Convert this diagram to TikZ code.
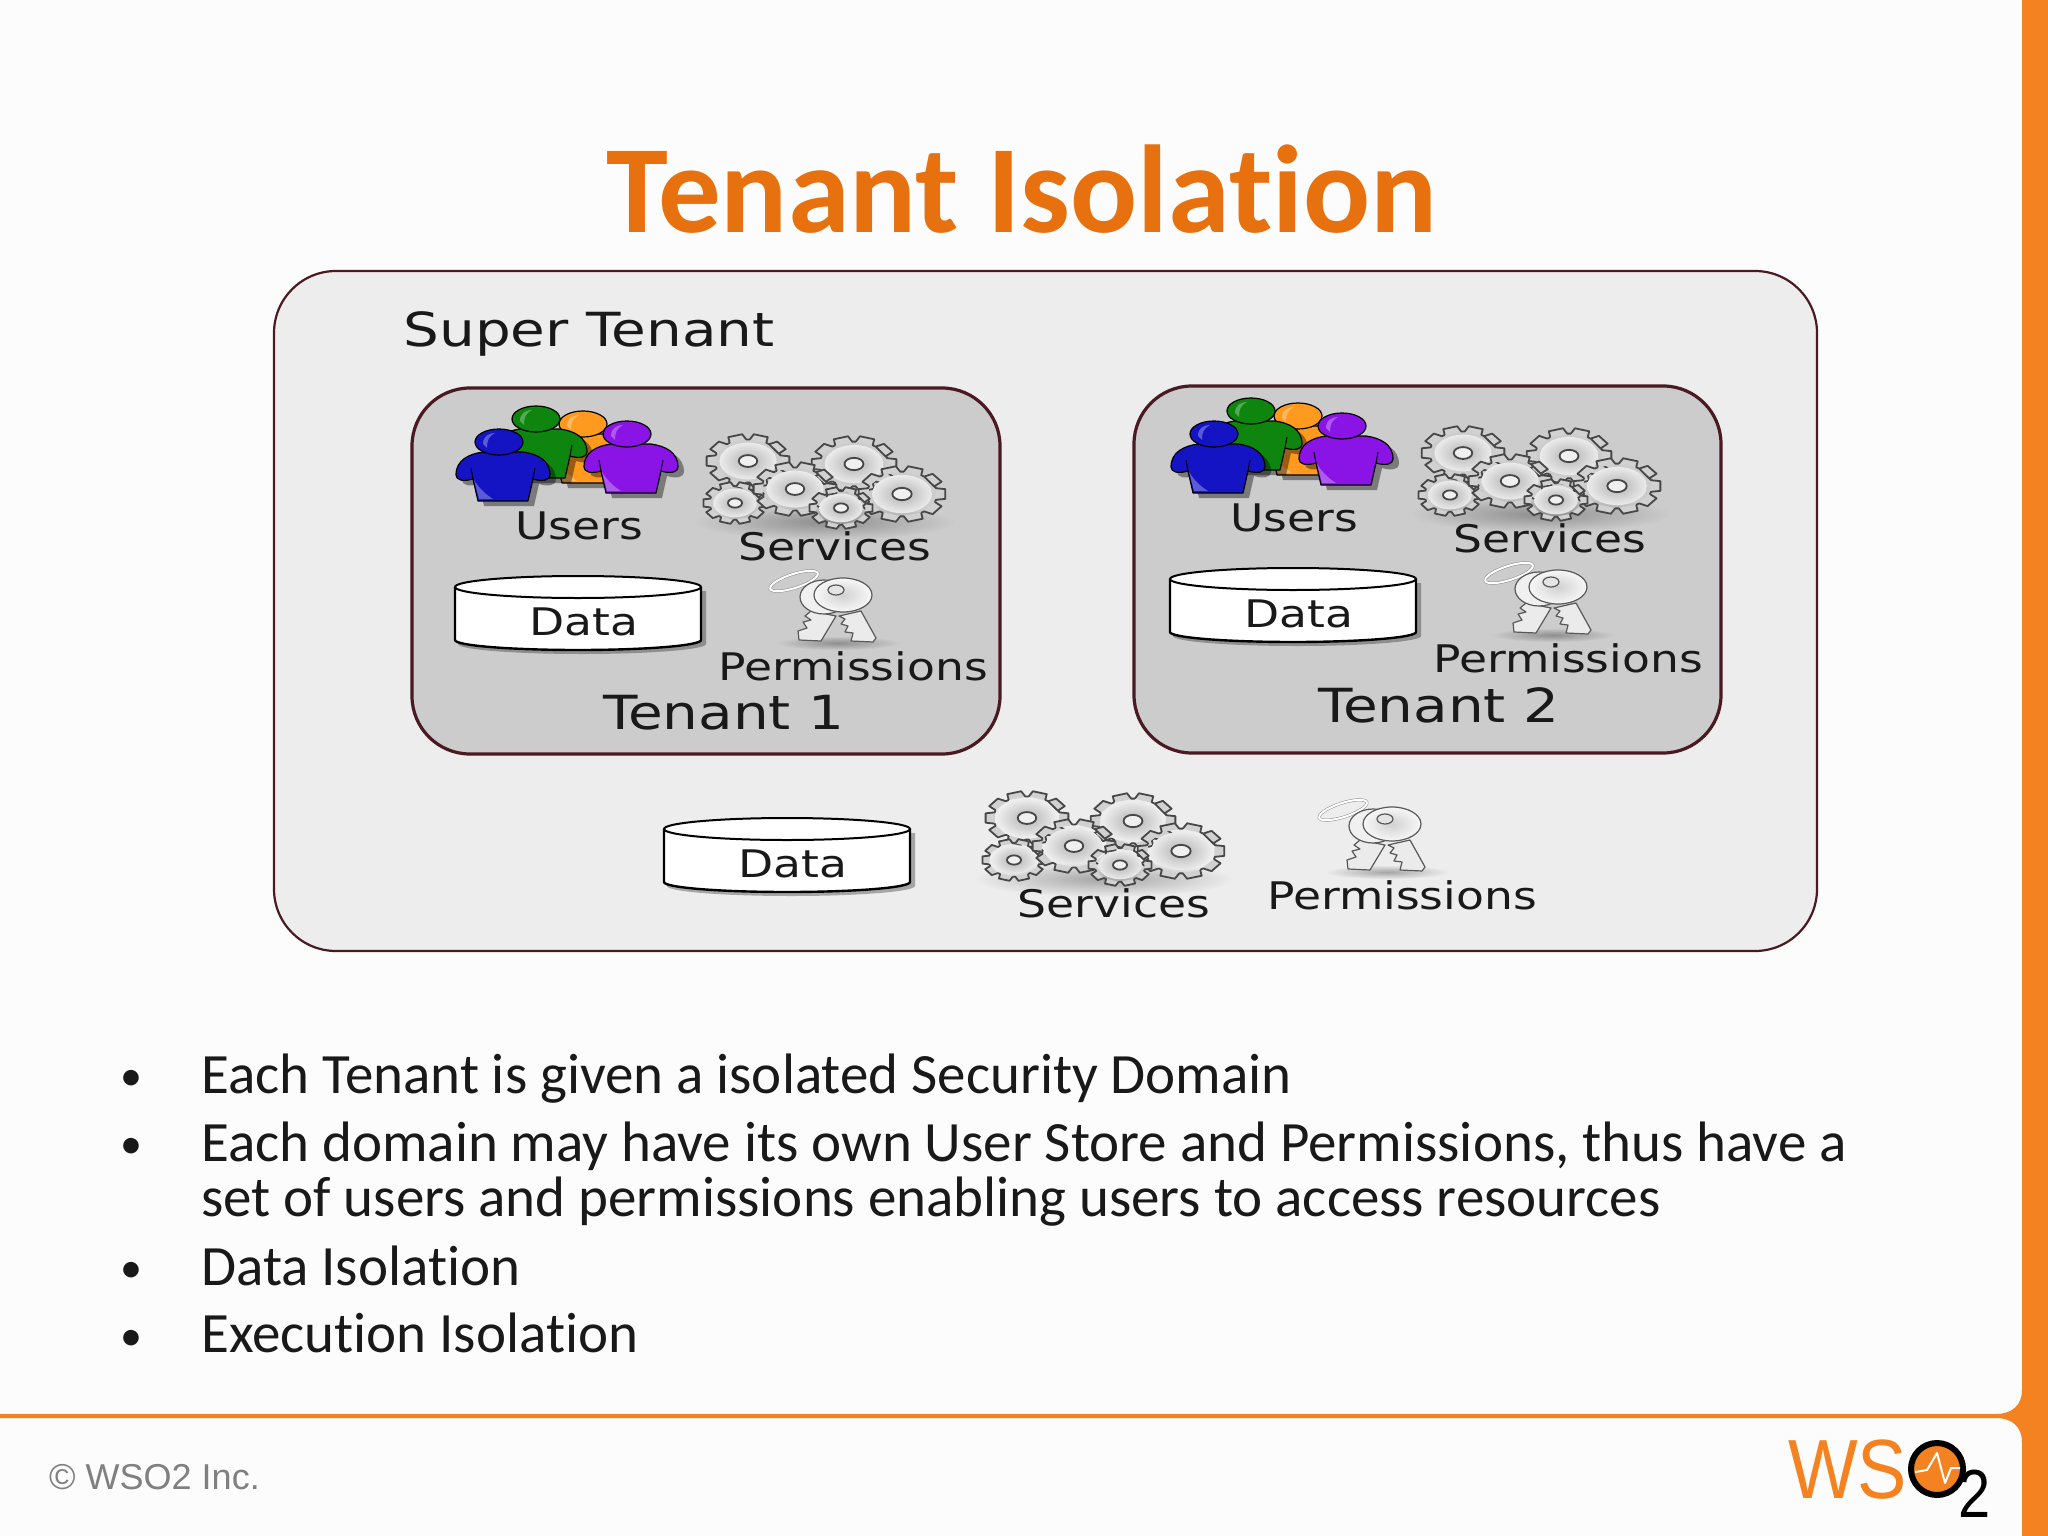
\documentclass[tikz,border=0pt]{standalone}
\usepackage{fontspec}
\setmainfont[Ligatures=NoCommon]{Carlito}
\newfontfamily\labelface{DejaVu Sans}
\newfontfamily\footface{Liberation Sans}
\usetikzlibrary{fadings}
\definecolor{wsoorange}{HTML}{F58220}
\definecolor{titleorange}{HTML}{E8710F}
\definecolor{boxedge}{HTML}{4A1A22}
\definecolor{userblue}{HTML}{1414C4}
\definecolor{usergreen}{HTML}{0E850E}
\definecolor{userorange}{HTML}{FF9A1E}
\definecolor{userpurple}{HTML}{8A14E6}
\tikzfading[name=softedge, inner color=transparent!0, outer color=transparent!100]
\tikzset{
	lbl/.style={font=\labelface\fontsize{#1}{#1}\selectfont,inner sep=0pt,text=black!90,xscale=1.2,transform shape},
	bullettext/.style={font=\fontsize{57}{57}\selectfont,anchor=base west,inner sep=0pt,text=black!90},
	bulletdot/.style={font=\fontsize{44}{44}\selectfont,anchor=base west,inner sep=0pt,text=black!90},
	softshadow/.style={black,opacity=.3,path fading=softedge},
	pics/onegear/.style={code={
		\draw[fill=black!18,draw=black!72,line width=1.8pt,line join=round]
			\foreach \a in {0,36,...,324} {
				({\a-15}:.8) -- ({\a-10}:1) -- ({\a+10}:1) -- ({\a+15}:.8) -- ({\a+21}:.8)
			} -- cycle;
		\shade[inner color=black!30,outer color=black!8] (0,0) circle (.68);
		\draw[black!72,line width=1.8pt,fill=black!6] (0,0) circle (.22);
	}},
	pics/gearset/.style={code={
		\fill[softshadow] (-10,-24) ellipse (130 and 18);
		\pic[xscale=42,yscale=27] at (-87,-85) {onegear};
		\pic[xscale=32,yscale=21] at (-100,-43) {onegear};
		\pic[xscale=43,yscale=28] at (19,-82) {onegear};
		\pic[xscale=42,yscale=27] at (-40,-57) {onegear};
		\pic[xscale=44,yscale=28] at (67,-52) {onegear};
		\pic[xscale=32,yscale=21] at (6,-38) {onegear};
	}},
	pics/person/.style={code={
		\fill[black,opacity=.4,shift={(10,5)}] (-20,10) .. controls (-34,12) and (-47,18) .. (-47,33)
			.. controls (-47,38) and (-40,40) .. (-30,37) -- (-25,59) -- (25,59) -- (30,37)
			.. controls (40,40) and (47,38) .. (47,33) .. controls (47,18) and (34,12) .. (20,10) -- cycle;
		\begin{scope}[shift={(4,0)}]
		\draw[fill=#1,draw=black,line width=1.2pt,line join=round] (-20,10) .. controls (-34,12) and (-47,18) .. (-47,33)
			.. controls (-47,38) and (-40,40) .. (-30,37) -- (-25,59) -- (25,59) -- (30,37)
			.. controls (40,40) and (47,38) .. (47,33) .. controls (47,18) and (34,12) .. (20,10) -- cycle;
		\fill[#1!70!white] (-24,57) -- (-29,38) .. controls (-24,46) and (-18,52) .. (-10,57) -- cycle;
		\draw[black,line width=1pt] (-30,37) -- (-32,26);
		\draw[black,line width=1pt] (30,37) -- (32,26);
		\end{scope}
		\draw[fill=#1,draw=black,line width=1.2pt] (0,0) ellipse (24 and 13);
		\fill[#1!70!white] (-16,2) .. controls (-16,-6) and (-10,-9) .. (-4,-9) .. controls (-10,-6) and (-12,-2) .. (-12,6) -- cycle;
	}},
	pics/datadrum/.style={code={
		\fill[black,opacity=.3] (-125,-31) -- (122,-31) -- (122,22) arc (0:180:124 and 10) -- cycle;
		\draw[fill=white,line width=2.4pt] (-129,-35) -- (-129,18) arc (180:0:123 and 10) -- (117,-35);
		\draw[fill=white,line width=2pt] (-6,-35) ellipse (123 and 11);
	}},
	pics/keyset/.style={code={
		\fill[softshadow] (-15,-23) ellipse (62 and 7);
		\draw[draw=black!45,line width=3pt,rotate around={18:(-59,-85)}] (-59,-85) ellipse (25 and 7);
		\draw[draw=white,line width=2pt,rotate around={18:(-59,-85)}] (-59,-85) ellipse (25 and 7);
		% left key behind the right one
		\draw[fill=black!8,draw=black!65,line width=1.2pt,line join=round] (-42,-55) -- (-48,-50) -- (-42,-46) -- (-50,-44)
			-- (-46,-38) -- (-55,-35) -- (-54,-26) -- (-32,-25) -- (-17,-50) -- cycle;
		\draw[fill=black!6,draw=black!65,line width=1.2pt] (-29,-69) ellipse (24 and 17);
		% right key
		\draw[fill=black!8,draw=black!65,line width=1.2pt,line join=round] (-14,-50) -- (-8,-47) -- (-12,-42) -- (-5,-40)
			-- (-8,-34) -- (0,-33) -- (-2,-25) -- (20,-24) -- (23,-28) -- (8,-55) -- cycle;
		\shade[draw=black!65,line width=1.2pt,inner color=black!18,outer color=black!3] (-10,-71) ellipse (29 and 17);
		\draw[fill=black!10,draw=black!65,line width=1.2pt] (-17,-76) ellipse (8 and 5);
	}},
	pics/tenantitems/.style={code={
		\pic at (583,424) {person=userorange};
		\pic at (536,419) {person=usergreen};
		\pic at (627,434) {person=userpurple};
		\pic at (499,442) {person=userblue};
		\node[lbl=38] (users) at (579,526) {Users};
		\pic at (835,546) {gearset};
		\node[lbl=38] (services) at (835,546) {Services};
		\pic at (584,622) {datadrum};
		\node[lbl=38] (data) at (584,622) {Data};
		\pic at (853,666) {keyset};
		\node[lbl=38] (permissions) at (853,666) {Permissions};
	}},
}
\begin{document}
\begin{tikzpicture}[x=1pt,y=-1pt]
	\useasboundingbox (0,0) rectangle (2048,1536);
	\fill[black!1] (0,0) rectangle (2048,1536);

	% frame of the slide
	\fill[wsoorange] (2048,0) -- (2022,0) -- (2022,1390) .. controls (2022,1405) and (2012,1414) .. (1996,1414)
		-- (0,1414) -- (0,1418) -- (1996,1418) .. controls (2012,1418) and (2022,1427) .. (2022,1442)
		-- (2022,1536) -- (2048,1536) -- cycle;
	\node[font=\bfseries\fontsize{125}{125}\selectfont,text=titleorange,inner sep=0pt,anchor=base] (title) at (1022,232) {Tenant Isolation};

	% boxes
	\draw[fill=black!7,draw=boxedge,line width=2.2pt,rounded corners=62pt] (274,271) rectangle (1817,951);
	\draw[fill=black!20,draw=boxedge,line width=3.2pt,rounded corners=58pt] (412,388) rectangle (1000,754);
	\draw[fill=black!20,draw=boxedge,line width=3.2pt,rounded corners=58pt] (1134,386) rectangle (1721,753);
	\node[lbl=47] (super) at (589,334) {Super Tenant};

	\pic (tone) at (0,0) {tenantitems};
	\pic (ttwo) at (715,-8) {tenantitems};
	\node[lbl=47] (tenantone) at (724,713) {Tenant 1};
	\node[lbl=47] (tenanttwo) at (1439,705) {Tenant 2};

	% items of the super tenant
	\pic at (793,864) {datadrum};
	\node[lbl=38] (sdata) at (793,864) {Data};
	\pic at (1114,903) {gearset};
	\node[lbl=38] (sservices) at (1114,903) {Services};
	\pic at (1402,895) {keyset};
	\node[lbl=38] (spermissions) at (1402,895) {Permissions};

	% bullets
	\foreach \y/\n in {1090/a,1158/b,1282/c,1350/d}
		\node[bulletdot] (dot\n) at (120,\y) {•};
	\node[bullettext] (texta) at (201,1093) {Each Tenant is given a isolated Security Domain};
	\node[bullettext] (textb) at (201,1161) {Each domain may have its own User Store and Permissions, thus have a};
	\node[bullettext] (textbb) at (201,1216) {set of users and permissions enabling users to access resources};
	\node[bullettext] (textc) at (201,1285) {Data Isolation};
	\node[bullettext] (textd) at (201,1352) {Execution Isolation};

	% footer
	\node[font=\footface\fontsize{36}{36}\selectfont,text=black!50,inner sep=0pt,anchor=base west] (copy) at (49,1489) {© WSO2 Inc.};
	\node[font=\footface\fontsize{84}{84}\selectfont,text=wsoorange,inner sep=0pt,anchor=base west,xscale=.88,transform shape] (ws) at (1788,1498) {WS};
	\draw[black,line width=6pt,fill=wsoorange] (1937,1469) circle (26);
	\draw[white,line width=2pt,line join=round] (1915,1472) -- (1927,1470) -- (1937,1453) -- (1945,1483) -- (1951,1468) -- (1960,1468);
	\node[font=\footface\fontsize{68}{68}\selectfont,text=black,inner sep=0pt,anchor=base,xscale=.85,transform shape] (two) at (1975,1517) {2};
\end{tikzpicture}
\end{document}
